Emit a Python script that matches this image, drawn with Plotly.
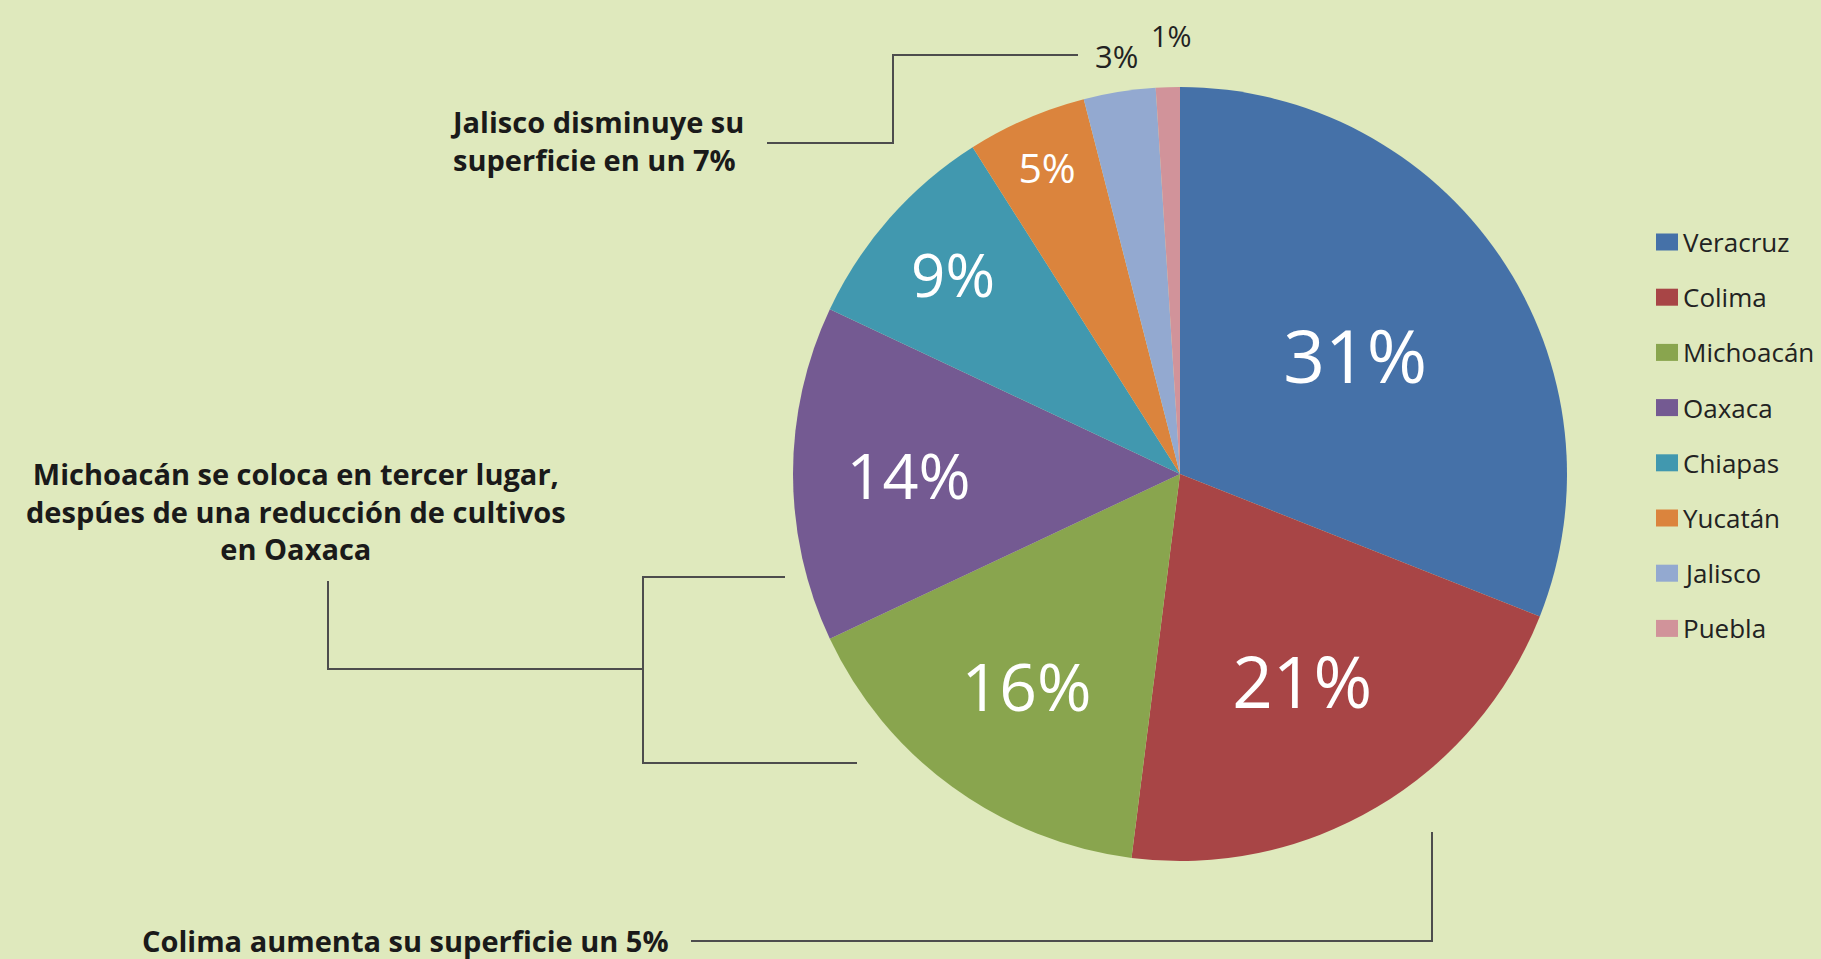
import plotly.graph_objects as go

# ---------------- data ----------------
states = ["Veracruz", "Colima", "Michoacán", "Oaxaca", "Chiapas", "Yucatán", "Jalisco", "Puebla"]
shares = [31, 21, 16, 14, 9, 5, 3, 1]
colors = ["#4571A8", "#A84546", "#89A54E", "#745A92", "#4198AF", "#DB843D", "#93A9D0", "#D1939A"]
label_sizes = [73, 71, 66, 63, 60, 41, 31, 29]
label_inside = [True, True, True, True, True, True, False, False]

note_jalisco = "Jalisco disminuye su<br>superficie en un 7%"
note_michoacan = "Michoacán se coloca en tercer lugar,<br>despúes de una reducción de cultivos<br>en Oaxaca"
note_colima = "Colima aumenta su superficie un 5%"

# ---------------- geometry helpers ----------------
W, H = 1821, 959
BG = "#DFE9BD"
LINE = "#4d4d4d"
TEXT_FONT = "Open Sans, sans-serif"
NOTE_FONT = dict(family=TEXT_FONT, size=29, color="#1a1a1a", weight="bold")


def px(x):
    return x / W


def py(y):
    return 1 - y / H


cx, cy, r = 1180, 474, 387

pie_text = [f"{v}%" if ins else "" for v, ins in zip(shares, label_inside)]

fig = go.Figure()
fig.add_trace(go.Pie(
    labels=states,
    values=shares,
    sort=False,
    direction="clockwise",
    rotation=0,
    marker=dict(colors=colors, line=dict(width=0)),
    text=pie_text,
    textinfo="text",
    textposition="inside",
    insidetextorientation="horizontal",
    insidetextfont=dict(family=TEXT_FONT, color="white", size=label_sizes),
    hoverinfo="label+percent",
    showlegend=False,
    domain=dict(x=[px(cx - r), px(cx + r)], y=[py(cy + r), py(cy - r)]),
))

shapes = []
annotations = []


def path(points):
    d = "M " + " L ".join(f"{px(x)},{py(y)}" for x, y in points)
    shapes.append(dict(type="path", path=d, xref="paper", yref="paper",
                       line=dict(color=LINE, width=2)))


# small-slice labels placed outside the pie (top)
outside_pos = {6: (1116, 56), 7: (1171, 36)}
for i, (x, y) in outside_pos.items():
    annotations.append(dict(text=f"{shares[i]}%", x=px(x), y=py(y), xref="paper", yref="paper",
                            xanchor="center", yanchor="middle", showarrow=False,
                            font=dict(family=TEXT_FONT, size=label_sizes[i], color="#222222")))

# connector lines for notes
path([(767, 143), (893, 143), (893, 55), (1078, 55)])
path([(328, 581), (328, 669), (643, 669)])
path([(785, 577), (643, 577), (643, 763), (857, 763)])
path([(691, 941), (1432, 941), (1432, 832)])

annotations.append(dict(text=note_jalisco, x=px(448), y=py(141), xref="paper", yref="paper",
                        xanchor="left", yanchor="middle", align="left", showarrow=False, font=NOTE_FONT))
annotations.append(dict(text=note_michoacan, x=px(296), y=py(511), xref="paper", yref="paper",
                        xanchor="center", yanchor="middle", align="center", showarrow=False, font=NOTE_FONT))
annotations.append(dict(text=note_colima, x=px(140), y=py(940), xref="paper", yref="paper",
                        xanchor="left", yanchor="middle", align="left", showarrow=False, font=NOTE_FONT))

# legend built from the data lists
leg_top, leg_step = 242, 55.2
for i, (name, col) in enumerate(zip(states, colors)):
    yc = leg_top + i * leg_step
    shapes.append(dict(type="rect", xref="paper", yref="paper",
                       x0=px(1656), x1=px(1678), y0=py(yc + 8.5), y1=py(yc - 8.5),
                       fillcolor=col, line=dict(width=0)))
    annotations.append(dict(text=name, x=px(1681), y=py(yc), xref="paper", yref="paper",
                            xanchor="left", yanchor="middle", showarrow=False,
                            font=dict(family=TEXT_FONT, size=26, color="#222222")))

fig.update_layout(
    width=W, height=H,
    margin=dict(l=0, r=0, t=0, b=0),
    paper_bgcolor=BG,
    plot_bgcolor=BG,
    shapes=shapes,
    annotations=annotations,
)

fig.write_html("out.html", config={"displayModeBar": False},
               post_script="document.body.style.margin='0';document.body.style.overflow='hidden';")
